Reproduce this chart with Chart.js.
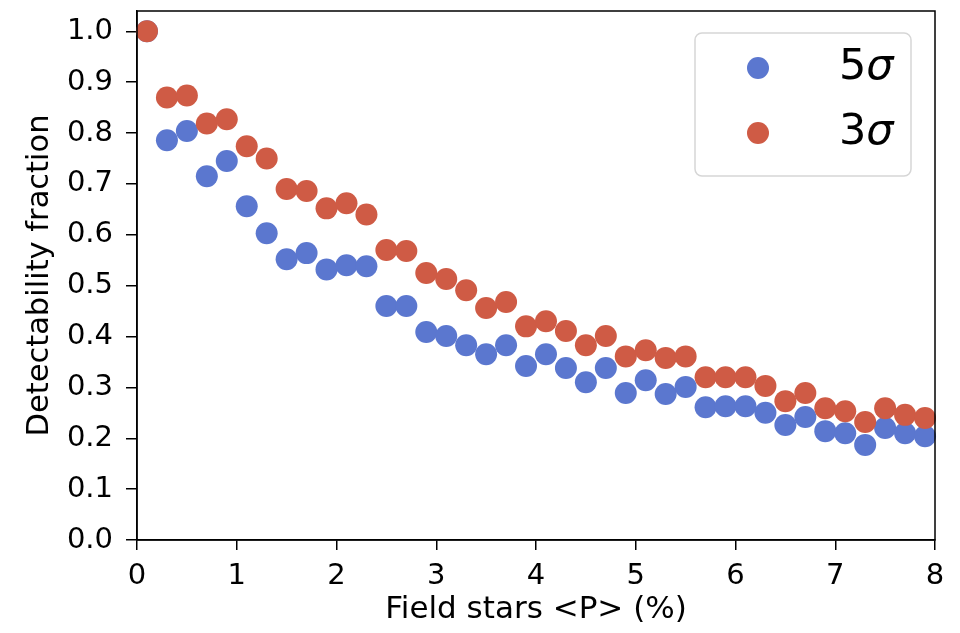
<!DOCTYPE html>
<html>
<head>
<meta charset="utf-8">
<script src="https://cdn.jsdelivr.net/npm/chart.js@4/dist/chart.umd.min.js"></script>
<style>
  html, body { margin: 0; padding: 0; background: #fff; }
  #wrap { width: 960px; height: 633px; }
</style>
</head>
<body>
<div id="wrap"><canvas id="chart"></canvas></div>
<script>
// field star polarisation bins (%)
const fieldP = [0.1, 0.3, 0.5, 0.7, 0.9, 1.1, 1.3, 1.5, 1.7, 1.9,
                2.1, 2.3, 2.5, 2.7, 2.9, 3.1, 3.3, 3.5, 3.7, 3.9,
                4.1, 4.3, 4.5, 4.7, 4.9, 5.1, 5.3, 5.5, 5.7, 5.9,
                6.1, 6.3, 6.5, 6.7, 6.9, 7.1, 7.3, 7.5, 7.7, 7.9];

const det5sigma = [1.0, 0.786, 0.804, 0.715, 0.745, 0.656, 0.603, 0.552, 0.564, 0.532,
                   0.540, 0.538, 0.460, 0.460, 0.409, 0.401, 0.383, 0.365, 0.383, 0.342,
                   0.365, 0.338, 0.310, 0.338, 0.289, 0.314, 0.287, 0.301, 0.261, 0.263,
                   0.263, 0.250, 0.226, 0.242, 0.214, 0.210, 0.187, 0.220, 0.210, 0.204];

const det3sigma = [1.0, 0.870, 0.874, 0.819, 0.827, 0.774, 0.750, 0.690, 0.686, 0.652,
                   0.662, 0.640, 0.570, 0.568, 0.525, 0.513, 0.491, 0.456, 0.468, 0.420,
                   0.430, 0.411, 0.383, 0.401, 0.361, 0.373, 0.358, 0.361, 0.320, 0.320,
                   0.320, 0.303, 0.273, 0.289, 0.259, 0.253, 0.232, 0.259, 0.246, 0.240];

const xTicks = [0, 1, 2, 3, 4, 5, 6, 7, 8];
const yTicks = [0.0, 0.1, 0.2, 0.3, 0.4, 0.5, 0.6, 0.7, 0.8, 0.9, 1.0];

const blue = '#5b77cf';
const red = '#cf5b45';
const font = 'DejaVu Sans';

function pts(ys) {
  return fieldP.map((x, i) => ({ x: x, y: ys[i] }));
}

// frame round the plot and the legend box in the upper right
const framePlugin = {
  id: 'frame',
  afterDraw(chart) {
    const ctx = chart.ctx;
    const a = chart.chartArea;
    ctx.save();
    ctx.strokeStyle = '#000';
    ctx.lineWidth = 1.5;
    ctx.strokeRect(a.left, a.top, a.right - a.left, a.bottom - a.top);

    // legend
    const bx = 695, by = 33, bw = 216, bh = 143, r = 7;
    ctx.beginPath();
    ctx.roundRect(bx, by, bw, bh, r);
    ctx.fillStyle = 'rgba(255,255,255,0.8)';
    ctx.fill();
    ctx.strokeStyle = '#d6d6d6';
    ctx.lineWidth = 1.5;
    ctx.stroke();

    const items = [['5', blue, 68], ['3', red, 133]];
    items.forEach(([num, col, y]) => {
      ctx.beginPath();
      ctx.arc(758, y, 11, 0, Math.PI * 2);
      ctx.fillStyle = col;
      ctx.fill();
      ctx.fillStyle = '#000';
      ctx.textBaseline = 'middle';
      ctx.textAlign = 'left';
      ctx.font = '43px "' + font + '"';
      ctx.fillText(num, 839, y);
      const w = ctx.measureText(num).width;
      ctx.font = 'italic 43px "' + font + '"';
      ctx.fillText('σ', 839 + w, y);
    });
    ctx.restore();
  }
};

new Chart(document.getElementById('chart'), {
  type: 'scatter',
  data: {
    datasets: [
      {
        label: '5σ',
        data: pts(det5sigma),
        backgroundColor: blue,
        borderWidth: 0,
        pointRadius: 11,
        pointHoverRadius: 11,
        order: 1,
        clip: false
      },
      {
        label: '3σ',
        data: pts(det3sigma),
        backgroundColor: red,
        borderWidth: 0,
        pointRadius: 11,
        pointHoverRadius: 11,
        order: 0,
        clip: false
      }
    ]
  },
  options: {
    responsive: true,
    maintainAspectRatio: false,
    animation: false,
    layout: { padding: { top: 11, right: 25, left: 0, bottom: 0 } },
    plugins: {
      legend: { display: false },
      tooltip: { enabled: false }
    },
    scales: {
      x: {
        type: 'linear',
        min: 0,
        max: 8,
        afterBuildTicks(s) { s.ticks = xTicks.map(v => ({ value: v })); },
        afterFit(s) { s.height = 93; s.paddingLeft = 0; s.paddingRight = 0; },
        grid: { drawOnChartArea: false, tickLength: 10, color: '#000', lineWidth: 1.5 },
        border: { color: '#000', width: 1.5 },
        ticks: {
          color: '#000',
          padding: 9,
          font: { family: font, size: 29 },
          callback: v => String(v)
        },
        title: {
          display: true,
          text: 'Field stars <P> (%)',
          color: '#000',
          font: { family: font, size: 31 },
          padding: { top: 0, bottom: 4 }
        }
      },
      y: {
        min: 0,
        max: 1.04,
        afterBuildTicks(s) { s.ticks = yTicks.map(v => ({ value: v })); },
        afterFit(s) { s.width = 137; s.paddingTop = 0; s.paddingBottom = 0; },
        grid: { drawOnChartArea: false, tickLength: 11, color: '#000', lineWidth: 1.5 },
        border: { color: '#000', width: 1.5 },
        ticks: {
          color: '#000',
          padding: 13,
          font: { family: font, size: 29 },
          callback: v => v.toFixed(1)
        },
        title: {
          display: true,
          text: 'Detectability fraction',
          color: '#000',
          font: { family: font, size: 30.5 },
          padding: { top: 22, bottom: 0 }
        }
      }
    }
  },
  plugins: [framePlugin]
});
</script>
</body>
</html>
